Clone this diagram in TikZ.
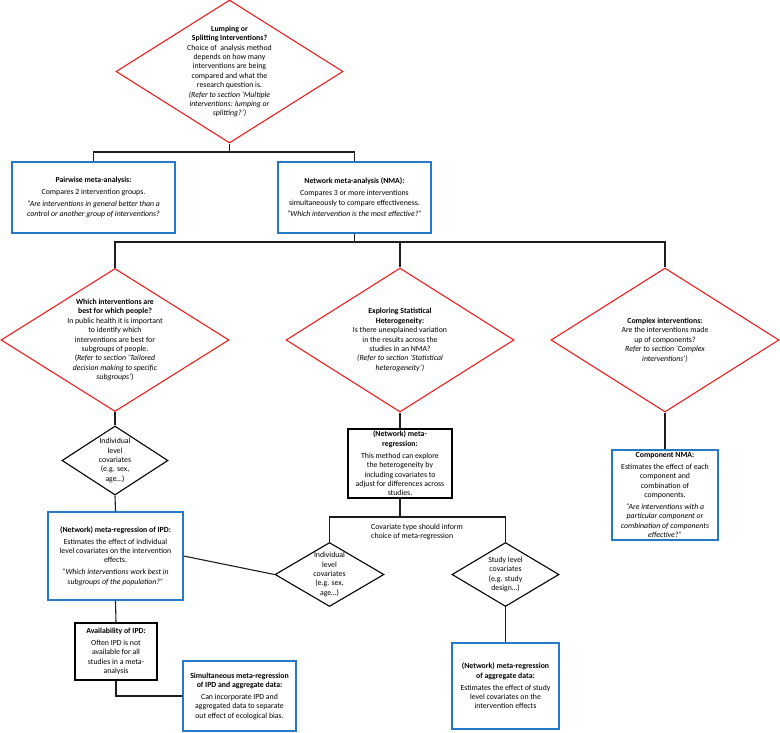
\documentclass[tikz,border=0pt]{standalone}
\usepackage{fontspec}
\setmainfont{Carlito}
\usetikzlibrary{shapes.geometric}
\definecolor{boxblue}{RGB}{38,120,200}
\definecolor{dred}{RGB}{240,30,30}
\definecolor{lineg}{RGB}{30,30,30}
\tikzset{
  txt/.style={align=center, inner sep=0pt, font=\fontsize{7.8}{9.4}\selectfont},
  bluebox/.style={txt, draw=boxblue, line width=1.4pt, rectangle},
  blackbox/.style={txt, draw=black, line width=1.4pt, rectangle},
  reddia/.style={diamond, draw=dred, line width=1.1pt, inner sep=0pt},
  blackdia/.style={diamond, draw=black, line width=1.1pt, inner sep=0pt},
  conn/.style={draw=lineg, line width=1.1pt}
}
\begin{document}
\begin{tikzpicture}[x=1pt,y=-1pt]
\useasboundingbox (0,0) rectangle (780,732);

% diamonds
\node[reddia, minimum width=227pt, minimum height=143pt] (top) at (229.5,71.5) {};
\node[txt] (toptxt) at (top.center) {\textbf{Lumping or}\\\textbf{Splitting Interventions?}\\Choice of\ \ analysis method\\depends on how many\\interventions are being\\compared and what the\\research question is.\\\textit{(Refer to section ‘Multiple}\\\textit{interventions: lumping or}\\\textit{splitting?’)}};

\node[reddia, minimum width=228pt, minimum height=143pt] (dL) at (115,340) {};
\node[txt] (dLtxt) at (dL.center) {\textbf{Which interventions are}\\\textbf{best for which people?}\\In public health it is important\\to identify which\\interventions are best for\\subgroups of people.\\(\textit{Refer to section ‘Tailored}\\\textit{decision making to specific}\\\textit{subgroups’})};

\node[reddia, minimum width=228pt, minimum height=144pt] (dM) at (400,340) {};
\node[txt] (dMtxt) at (dM.center) {\textbf{Exploring Statistical}\\\textbf{Heterogeneity:}\\Is there unexplained variation\\in the results across the\\studies in an NMA?\\\textit{(Refer to section ‘Statistical}\\\textit{heterogeneity’)}};

\node[reddia, minimum width=228pt, minimum height=144pt] (dR) at (665,340) {};
\node[txt] (dRtxt) at (dR.center) {\textbf{Complex interventions:}\\Are the interventions made\\up of components?\\\textit{Refer to section ‘Complex}\\\textit{interventions’)}};

\node[blackdia, minimum width=106pt, minimum height=69pt] (sL) at (115,460.5) {};
\node[txt] (sLtxt) at (sL.center) {Individual\\level\\covariates\\(e.g. sex,\\age…)};

\node[blackdia, minimum width=109pt, minimum height=64pt] (sM) at (329.5,574.5) {};
\node[txt] (sMtxt) at (sM.center) {Individual\\level\\covariates\\(e.g. sex,\\age…)};

\node[blackdia, minimum width=107pt, minimum height=64pt] (sR) at (505.5,574.5) {};
\node[txt] (sRtxt) at (sR.center) {Study level\\covariates\\(e.g. study\\design…)};

% boxes
\node[bluebox, minimum width=163pt, minimum height=71pt] (pair) at (93.5,197.5) {\textbf{Pairwise meta-analysis:}\\[2.5pt]Compares 2 intervention groups.\\[2.5pt]\textit{“Are interventions in general better than a}\\\textit{control or another group of interventions?}};

\node[bluebox, minimum width=153pt, minimum height=71pt] (nma) at (354.5,197.5) {\textbf{Network meta-analysis (NMA):}\\[2.5pt]Compares 3 or more interventions\\simultaneously to compare effectiveness.\\[2.5pt]\textit{“Which intervention is the most effective?”}};

\node[blackbox, minimum width=104pt, minimum height=69pt] (mreg) at (400,463.5) {\textbf{(Network) meta-}\\\textbf{regression:}\\[2.5pt]This method can explore\\the heterogeneity by\\including covariates to\\adjust for differences across\\studies.};

\node[bluebox, minimum width=135pt, minimum height=88pt] (ipd) at (115.5,556) {\textbf{(Network) meta-regression of IPD:}\\[2.5pt]Estimates the effect of individual\\level covariates on the intervention\\effects.\\[2.5pt]\textit{“Which interventions work best in}\\\textit{subgroups of the population?”}};

\node[blackbox, minimum width=82pt, minimum height=57pt] (avail) at (116,651.5) {\textbf{Availability of IPD:}\\[2.5pt]Often IPD is not\\available for all\\studies in a meta-\\analysis};

\node[bluebox, minimum width=113pt, minimum height=70pt] (simul) at (239.5,696) {\textbf{Simultaneous meta-regression}\\\textbf{of IPD and aggregate data:}\\[2.5pt]Can incorporate IPD and\\aggregated data to separate\\out effect of ecological bias.};

\node[bluebox, minimum width=107pt, minimum height=86pt] (agg) at (505.5,686) {\textbf{(Network) meta-regression}\\\textbf{of aggregate data:}\\[2.5pt]Estimates the effect of study\\level covariates on the\\intervention effects};

\node[bluebox, minimum width=106pt, minimum height=90pt] (comp) at (665,495) {\textbf{Component NMA:}\\[2.5pt]Estimates the effect of each\\component and\\combination of\\components.\\[2.5pt]\textit{“Are interventions with a}\\\textit{particular component or}\\\textit{combination of components}\\\textit{effective?”}};

\node[txt, align=left, anchor=west] (covlab) at (371,532) {Covariate type should inform\\choice of meta-regression};

% junctions
\coordinate (j1) at (229.5,152);
\coordinate (j2) at (354.5,242);
\coordinate (j3) at (400,517);

% connectors
\draw[conn] (top.south) -- (j1);
\draw[conn] (pair.north) |- (j1) -| (nma.north);
\draw[conn] (nma.south) -- (j2);
\draw[conn] (dL.north) |- (j2) -| (dR.north);
\draw[conn] (dM.north) -- (dM.north |- j2);
\draw[conn] (dL.south) -- (sL.north);
\draw[conn] (sL.south) -- (ipd.north);
\draw[conn] (ipd.east) -- (sM.west);
\draw[conn] (ipd.south) -- (avail.north);
\draw[conn] (avail.south) |- (simul.west);
\draw[conn] (dM.south) -- (mreg.north);
\draw[conn] (mreg.south) -- (j3);
\draw[conn] (sM.north) |- (j3) -| (sR.north);
\draw[conn] (sR.south) -- (agg.north);
\draw[conn] (dR.south) -- (comp.north);
\end{tikzpicture}
\end{document}
